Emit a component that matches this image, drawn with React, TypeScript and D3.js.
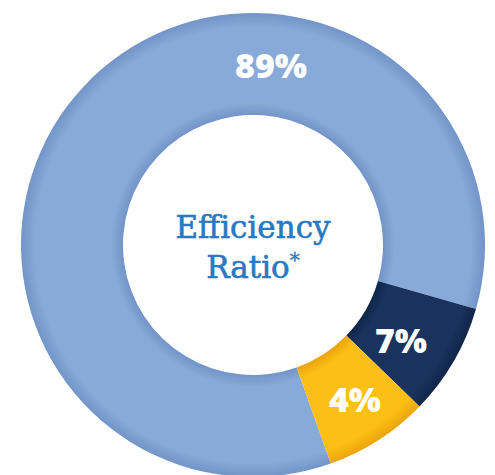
import React from "react";
import * as d3 from "d3";

const categories = ["Other", "Segment A", "Segment B"];
const labels = ["89%", "7%", "4%"];
// Arc shares as drawn in the reference (degrees of sweep converted to %)
const arcShares = [84.9, 7.8, 7.3];
const colors = ["#87aad8", "#19335e", "#fbbf15"];
const edgeColors = ["#7294c8", "#10264a", "#eca40c"];
const startDeg = 160.4;

const W = 495, H = 475;
const cx = 253, cy = 245;
const rOuter = 232, rInner = 130;

export default function App() {
  const pie = d3
    .pie<number>()
    .sort(null)
    .startAngle((startDeg * Math.PI) / 180)
    .endAngle((startDeg * Math.PI) / 180 + 2 * Math.PI)
    .value((d) => d);
  const arcs = pie(arcShares);
  const arcGen = d3.arc<d3.PieArcDatum<number>>().innerRadius(rInner).outerRadius(rOuter);
  const labelPos: [number, number][] = [
    [271, 65],
    [401, 340],
    [355, 399],
  ];
  const ri = rInner / rOuter;
  return (
    <svg width={W} height={H} style={{ position: "absolute", left: 0, top: 0 }}>
      <defs>
        {colors.map((c, i) => (
          <radialGradient key={i} id={`g${i}`} gradientUnits="userSpaceOnUse" cx={0} cy={0} r={rOuter}>
            <stop offset={ri} stopColor={edgeColors[i]} />
            <stop offset={ri + 0.05} stopColor={c} />
            <stop offset={0.94} stopColor={c} />
            <stop offset={1} stopColor={edgeColors[i]} />
          </radialGradient>
        ))}
      </defs>
      <g transform={`translate(${cx},${cy})`}>
        {arcs.map((a, i) => (
          <path key={categories[i]} d={arcGen(a) || ""} fill={`url(#g${i})`} />
        ))}
      </g>
      {labels.map((l, i) => (
        <text
          key={l}
          x={labelPos[i][0]}
          y={labelPos[i][1]}
          textAnchor="middle"
          dominantBaseline="central"
          fill="#ffffff"
          fontFamily="'Open Sans', sans-serif"
          fontWeight={800}
          fontSize={34}
        >
          {l}
        </text>
      ))}
      <text x={cx} y={238} textAnchor="middle" fill="#2a78c0" stroke="#2a78c0" strokeWidth={0.6} fontFamily="'DejaVu Serif', serif" fontSize={31}>
        Efficiency
      </text>
      <text x={cx} y={278} textAnchor="middle" fill="#2a78c0" stroke="#2a78c0" strokeWidth={0.6} fontFamily="'DejaVu Serif', serif" fontSize={31}>
        Ratio<tspan dy={-11} fontSize={20} strokeWidth={0.3}>*</tspan>
      </text>
    </svg>
  );
}
